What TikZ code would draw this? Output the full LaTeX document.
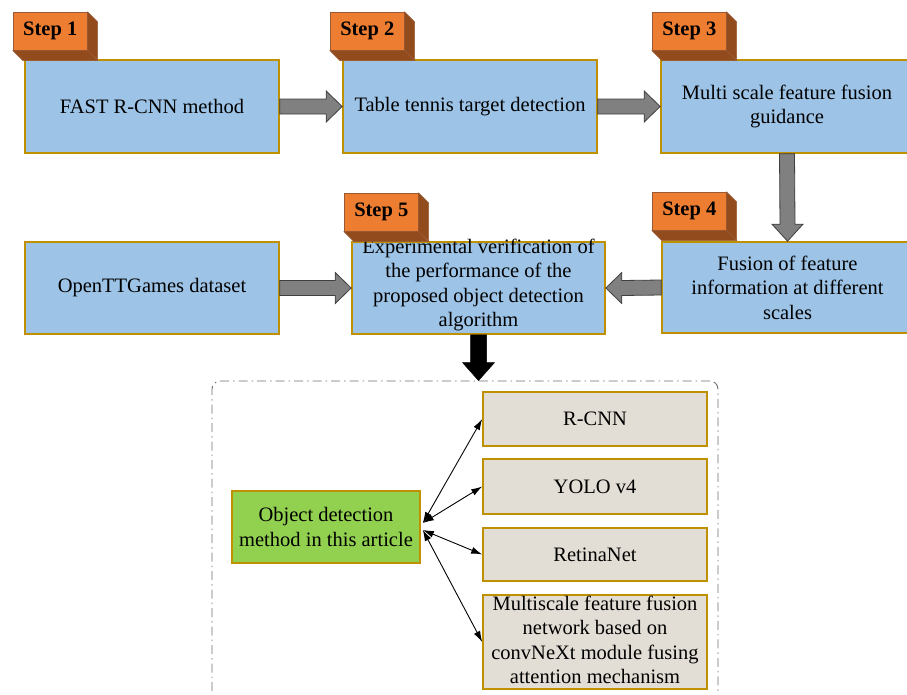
\documentclass[tikz,border=0pt]{standalone}
\usepackage{fontspec}
\setmainfont{Liberation Serif}
\usetikzlibrary{calc,arrows.meta}

\definecolor{boxblue}{HTML}{9DC3E6}
\definecolor{boxedge}{HTML}{BF9000}
\definecolor{taborange}{HTML}{ED7D31}
\definecolor{tabside}{HTML}{924B1D}
\definecolor{tabline}{HTML}{9A5A35}
\definecolor{arrowgray}{HTML}{808080}
\definecolor{arrowedge}{HTML}{3F3F3F}
\definecolor{methodgreen}{HTML}{92D050}
\definecolor{refgray}{HTML}{E3DED5}
\definecolor{framegray}{HTML}{6F6F6F}

% grey block arrows between two anchors
\newcommand\blockright[2]{\draw[garrow] ($(#1)+(0,-7.5)$) -- ($(#2)+(-16,-7.5)$) -- ($(#2)+(-16,-15.5)$) -- (#2) -- ($(#2)+(-16,15.5)$) -- ($(#2)+(-16,7.5)$) -- ($(#1)+(0,7.5)$) -- cycle;}
\newcommand\blockleft[2]{\draw[garrow] ($(#1)+(0,-7.5)$) -- ($(#2)+(16,-7.5)$) -- ($(#2)+(16,-15.5)$) -- (#2) -- ($(#2)+(16,15.5)$) -- ($(#2)+(16,7.5)$) -- ($(#1)+(0,7.5)$) -- cycle;}
\newcommand\blockdown[3][garrow]{\draw[#1] ($(#2)+(-7.5,0)$) -- ($(#3)+(-7.5,-17)$) -- ($(#3)+(-15.5,-17)$) -- (#3) -- ($(#3)+(15.5,-17)$) -- ($(#3)+(7.5,-17)$) -- ($(#2)+(7.5,0)$) -- cycle;}

% orange 3D step tab: name, front top-left corner, caption
\newcommand\steptab[3]{%
  \node[tabfront, anchor=north west] (#1) at (#2) {#3};
  \filldraw[tabface] (#1.north east) -- ++(10,10) -- ++(0,38) -- (#1.south east) -- cycle;
  \filldraw[tabface] (#1.south west) -- (#1.south east) -- ++(10,10) -- ($(#1.south west)+(10,10)$) -- cycle;}

\begin{document}
\begin{tikzpicture}[x=1pt,y=-1pt,
  txt/.style={align=center, font=\fontsize{20.5}{24.5}\selectfont, inner sep=0pt},
  stepbox/.style={txt, draw=boxedge, line width=1.6pt, fill=boxblue},
  refbox/.style={txt, draw=boxedge, line width=1.6pt, fill=refgray, minimum width=224},
  tabfront/.style={fill=taborange, draw=tabline, line width=0.6pt, minimum width=74, minimum height=38,
    inner sep=0pt, font=\fontsize{20.5}{23}\selectfont\bfseries},
  tabface/.style={fill=tabside, draw=tabline, line width=0.6pt},
  garrow/.style={fill=arrowgray, draw=arrowedge, line width=0.8pt},
  barrow/.style={fill=black, draw=black, line width=0.5pt},
  dbl/.style={{Latex[length=11pt,width=7pt]}-{Latex[length=11pt,width=7pt]}, line width=0.9pt},
  framebox/.style={draw=framegray, line width=0.9pt, rounded corners=8pt,
    dash pattern=on 9pt off 4pt on 1.5pt off 4pt, minimum width=506, minimum height=340, inner sep=0pt}
]
\useasboundingbox (0,0) rectangle (907,694);
\clip (0,0) rectangle (907,694);

% main process boxes
\node[stepbox, minimum width=254, minimum height=93] (b1) at (152,106.5) {FAST R-CNN method};
\node[stepbox, minimum width=254, minimum height=93] (b2) at (470,106.5) {Table tennis target detection};
\node[stepbox, minimum width=252, minimum height=93] (b3) at (787,106.5) {Multi scale feature fusion\\guidance};
\node[stepbox, minimum width=251, minimum height=91] (b4) at (787.5,287.5) {Fusion of feature\\information at different\\scales};
\node[stepbox, minimum width=253, minimum height=92] (b5) at (478.5,288) {};
\node[txt] at ($(b5.center)+(0,-3)$) {Experimental verification of\\the performance of the\\proposed object detection\\algorithm};
\node[stepbox, minimum width=254, minimum height=92] (b0) at (152,288) {OpenTTGames dataset};

% flow arrows
\blockright{b1.east}{b2.west}
\blockright{b2.east}{b3.west}
\blockdown{b3.south}{b4.north}
\blockleft{b4.west}{b5.east}
\blockright{b0.east}{b5.west}

% step tabs
\steptab{s1}{13,12}{Step 1}
\steptab{s2}{330,12}{Step 2}
\steptab{s3}{652,12}{Step 3}
\steptab{s4}{652,192}{Step 4}
\steptab{s5}{344,193}{Step 5}

% comparison group
\node[framebox] (grp) at (465,551) {};
\node[txt, draw=boxedge, line width=1.6pt, fill=methodgreen, minimum width=188, minimum height=72] (meth) at (326,527) {Object detection\\method in this article};
\node[refbox, minimum height=54] (r1) at (595,419) {R-CNN};
\node[refbox, minimum height=55] (r2) at (595,486.5) {YOLO v4};
\node[refbox, minimum height=53] (r3) at (595,554.5) {RetinaNet};
\node[refbox, minimum height=94] (r4) at (595,642) {};
\node[txt] at ($(r4.center)+(0,-2)$) {Multiscale feature fusion\\network based on\\convNeXt module fusing\\attention mechanism};

\coordinate (gU) at ($(meth.east)+(2,-4)$);
\coordinate (gD) at ($(meth.east)+(2,3)$);
\draw[dbl] (gU) -- (r1.west);
\draw[dbl] (gU) -- (r2.west);
\draw[dbl] (gD) -- (r3.west);
\draw[dbl] (gD) -- (r4.west);

% result arrow into the group
\draw[barrow] ($(b5.south)+(-8,0)$) -- ($(b5.south |- grp.north)+(-8,-18)$) -- ($(b5.south |- grp.north)+(-16,-18)$) -- (b5.south |- grp.north) -- ($(b5.south |- grp.north)+(16,-18)$) -- ($(b5.south |- grp.north)+(8,-18)$) -- ($(b5.south)+(8,0)$) -- cycle;
\end{tikzpicture}
\end{document}
